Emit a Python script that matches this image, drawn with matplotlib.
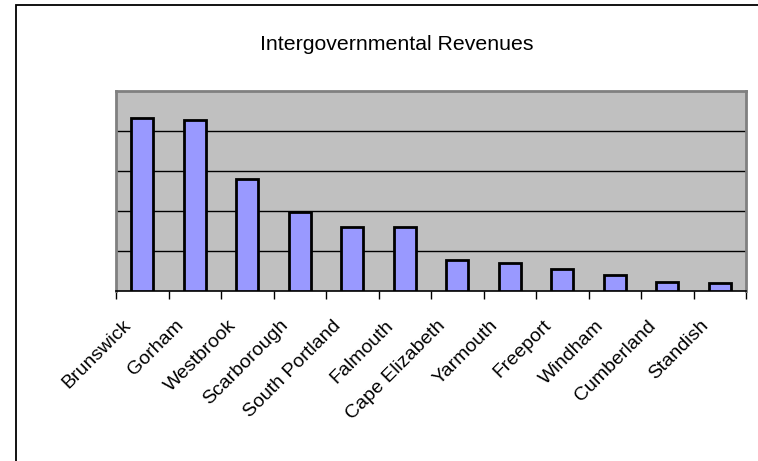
import matplotlib
matplotlib.use("Agg")
import matplotlib.pyplot as plt
import matplotlib.transforms as mtransforms
from matplotlib.patches import Rectangle
import numpy as np

towns = ["Brunswick", "Gorham", "Westbrook", "Scarborough", "South Portland",
         "Falmouth", "Cape Elizabeth", "Yarmouth", "Freeport", "Windham",
         "Cumberland", "Standish"]
revenues = [4.33, 4.28, 2.81, 1.97, 1.61, 1.61, 0.77, 0.71, 0.55, 0.41, 0.225, 0.21]
grid_levels = [1, 2, 3, 4]
y_max = 5

plt.rcParams['font.family'] = ['Liberation Sans', 'DejaVu Sans']

W, H = 758, 461
fig = plt.figure(figsize=(W / 100, H / 100), dpi=100)
fig.patch.set_facecolor('white')

# outer chart border (extends past right/bottom edge)
fig.patches.append(Rectangle((16 / W, -0.1), 1.2, 1 - 5.5 / H + 0.1,
                             transform=fig.transFigure, fill=False,
                             edgecolor='black', linewidth=1.3))

ax = fig.add_axes([116 / W, 1 - 291 / H, 630 / W, 200 / H])
ax.set_facecolor('#C0C0C0')

x = np.arange(len(towns))
ax.bar(x, revenues, width=0.41, color='#9999FF', edgecolor='black',
       linewidth=2, zorder=3)

ax.set_xlim(-0.5, len(towns) - 0.5)
ax.set_ylim(0, y_max)
for g in grid_levels:
    ax.axhline(g, color='black', linewidth=1, zorder=1)

ax.set_yticks([])
ax.set_xticks(np.arange(len(towns) + 1) - 0.5, minor=True)
ax.set_xticks(x)
ax.tick_params(axis='x', which='major', length=0, pad=23)
ax.tick_params(axis='x', which='minor', length=6, width=1, color='black',
               direction='out')
ax.set_xticklabels(towns, rotation=45, ha='right', va='center',
                   rotation_mode='anchor', fontsize=14)
offset = mtransforms.ScaledTranslation(-14 / 100, 0, fig.dpi_scale_trans)
for lbl in ax.get_xticklabels():
    lbl.set_transform(lbl.get_transform() + offset)

for side in ['left', 'right', 'top']:
    ax.spines[side].set_color('#808080')
    ax.spines[side].set_linewidth(2)
ax.spines['bottom'].set_color('black')
ax.spines['bottom'].set_linewidth(1.2)

fig.text(397 / W, 1 - 44 / H, "Intergovernmental Revenues", ha='center',
         va='center', fontsize=15.3)

fig.savefig("out.png", dpi=100)
